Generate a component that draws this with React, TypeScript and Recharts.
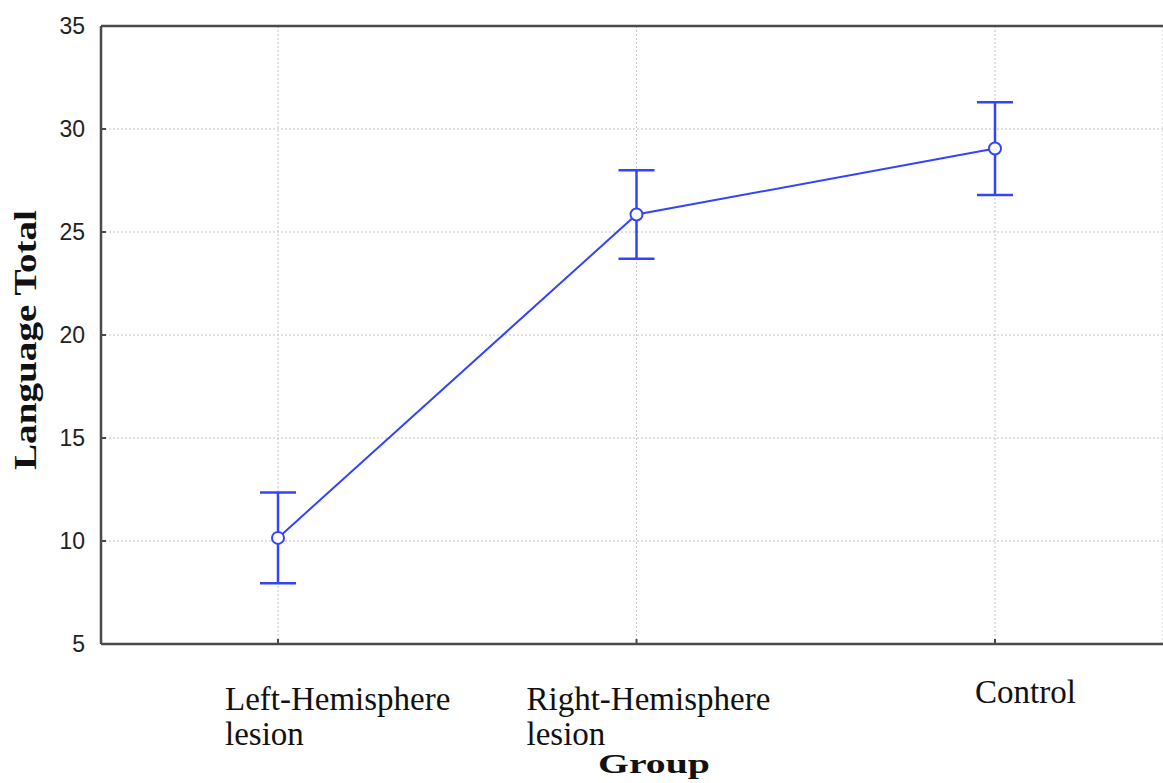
import React from 'react';
import { LineChart, Line, XAxis, YAxis, CartesianGrid, ErrorBar, ReferenceLine } from 'recharts';

const groups = ['Left-Hemisphere lesion', 'Right-Hemisphere lesion', 'Control'];
const means = [10.15, 25.85, 29.05];
const errors = [2.2, 2.15, 2.25];
const yTicks = [5, 10, 15, 20, 25, 30, 35];

const data = groups.map((g, i) => ({ group: g, mean: means[i], err: errors[i] }));

const BLUE = '#3344ff';
const AXIS = '#4a4a4a';
const labelDx = [-53, -110, -20];
const labelDy = [0, 0, -7];

const XTick = (props: any) => {
  const { x, y, payload, index } = props;
  const lines = String(payload.value).split(' ');
  return (
    <g>
      <line x1={x} y1={y} x2={x} y2={y - 5} stroke={AXIS} strokeWidth={2} />
      <text
        x={x + labelDx[index]}
        y={y + 66 + labelDy[index]}
        fontFamily="'Liberation Serif', 'Times New Roman', serif"
        fontSize={33}
        fill="#111"
      >
        {lines.map((l, i) => (
          <tspan key={i} x={x + labelDx[index]} dy={i === 0 ? 0 : 35}>
            {l}
          </tspan>
        ))}
      </text>
    </g>
  );
};

const YTick = (props: any) => {
  const { x, y, payload } = props;
  return (
    <g>
      <line x1={x} y1={y} x2={x + 5} y2={y} stroke={AXIS} strokeWidth={2} />
      <text
        x={x - 16}
        y={y + 8}
        textAnchor="end"
        fontFamily="'Liberation Sans', Arial, sans-serif"
        fontSize={23}
        fill="#222"
      >
        {payload.value}
      </text>
    </g>
  );
};

const GroupLabel = (props: any) => {
  const vb = props.viewBox || { x: 101, y: 644, width: 1062, height: 139 };
  return (
    <text
      x={vb.x + vb.width / 2 + 22}
      y={vb.y + 129}
      textAnchor="middle"
      fontFamily="'Liberation Serif', 'Times New Roman', serif"
      fontWeight="bold"
      fontSize={28}
      textLength={112}
      lengthAdjust="spacingAndGlyphs"
      fill="#111"
    >
      Group
    </text>
  );
};

const YTitle = (props: any) => {
  const vb = props.viewBox || { x: 0, y: 26, width: 101, height: 618 };
  const cx = 36;
  const cy = vb.y + vb.height / 2 + 5;
  return (
    <text
      x={cx}
      y={cy}
      transform={`rotate(-90, ${cx}, ${cy})`}
      textAnchor="middle"
      fontFamily="'Liberation Serif', 'Times New Roman', serif"
      fontWeight="bold"
      fontSize={31}
      textLength={260}
      lengthAdjust="spacingAndGlyphs"
      fill="#111"
    >
      Language Total
    </text>
  );
};

export default function App() {
  return (
    <div style={{ position: 'absolute', left: 0, top: 0, width: 1163, height: 783, background: '#fff' }}>
      <LineChart width={1163} height={783} data={data} margin={{ top: 26, right: 0, bottom: 0, left: 0 }}>
        <CartesianGrid stroke="#c4c4c4" strokeDasharray="2 2" strokeWidth={1} />
        <XAxis
          dataKey="group"
          interval={0}
          padding={{ left: 177, right: 168 }}
          height={139}
          tickSize={0}
          tickMargin={0}
          tickLine={false}
          axisLine={{ stroke: AXIS, strokeWidth: 2.5 }}
          tick={<XTick />}
          label={<GroupLabel />}
        />
        <YAxis
          type="number"
          domain={[5, 35]}
          ticks={yTicks}
          width={101}
          tickSize={0}
          tickMargin={0}
          tickLine={false}
          axisLine={{ stroke: AXIS, strokeWidth: 2.5 }}
          tick={<YTick />}
          allowDataOverflow
          label={<YTitle />}
        />
        <ReferenceLine y={35} stroke={AXIS} strokeWidth={2.5} />
        <Line
          type="linear"
          dataKey="mean"
          stroke={BLUE}
          strokeWidth={2}
          isAnimationActive={false}
          dot={{ r: 6, fill: '#fff', stroke: BLUE, strokeWidth: 2 }}
          activeDot={false}
        >
          <ErrorBar dataKey="err" width={18} stroke={BLUE} strokeWidth={2.5} direction="y" isAnimationActive={false} />
        </Line>
      </LineChart>
    </div>
  );
}
